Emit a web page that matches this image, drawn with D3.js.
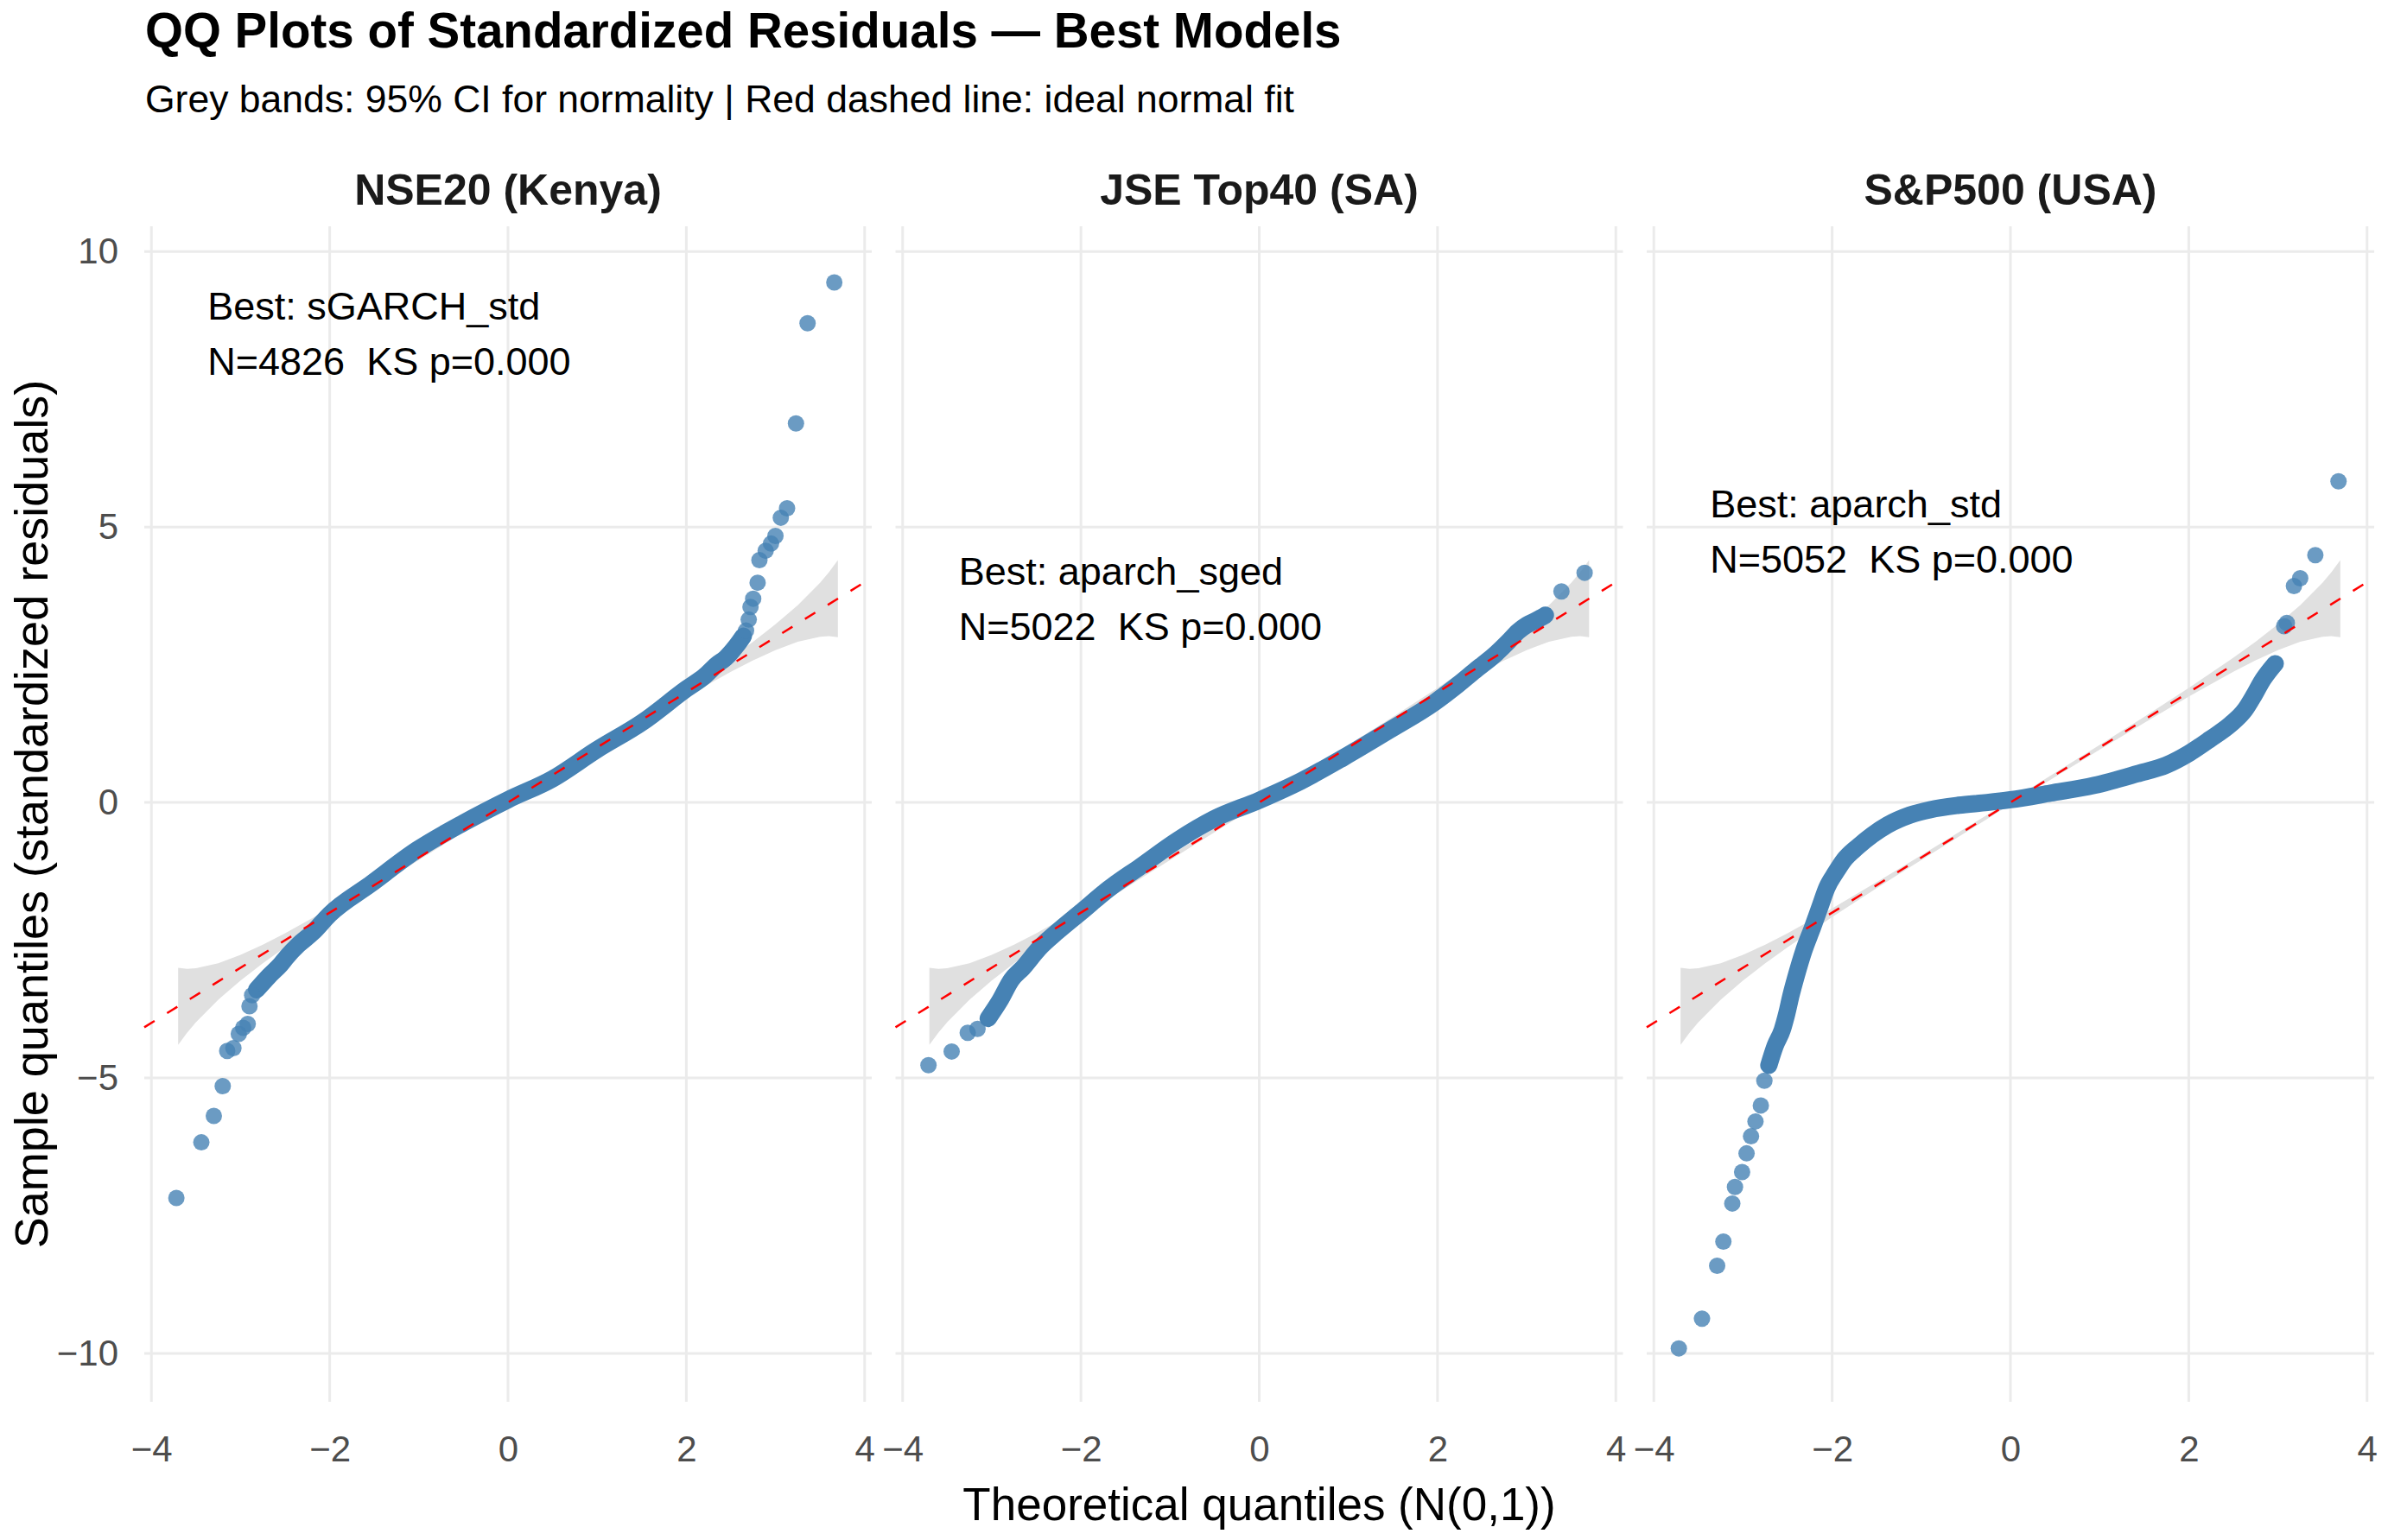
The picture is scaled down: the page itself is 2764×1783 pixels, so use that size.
<!DOCTYPE html>
<html>
<head>
<meta charset="utf-8">
<script src="https://cdn.jsdelivr.net/npm/d3@7"></script>
<style>
  body { margin: 0; background: #fff; }
  text { font-family: "Liberation Sans", Arial, sans-serif; }
</style>
</head>
<body>
<svg id="chart" width="2764" height="1783"></svg>
<script>
// facet names and the text printed in each panel
const panelNames = ["NSE20 (Kenya)", "JSE Top40 (SA)", "S&P500 (USA)"];
const bestModels = ["sGARCH_std", "aparch_sged", "aparch_std"];
const nObs = [4826, 5022, 5052];
const ksP = ["0.000", "0.000", "0.000"];
const noteX = [-3.37, -3.37, -3.37];
const noteY = [8.77, 3.95, 5.18];

// tick values
const xTicks = [-4, -2, 0, 2, 4];
const yTicks = [-10, -5, 0, 5, 10];

// dense part of each qq cloud (theoretical, sample)
const bodyNSE = [[-2.82,-3.40],[-2.68,-3.15],[-2.55,-2.94],[-2.48,-2.80],[-2.35,-2.58],[-2.19,-2.36],
  [-2.0,-2.03],[-1.54,-1.48],[-1.02,-0.86],[-0.50,-0.37],[0,0.05],[0.50,0.43],[0.99,0.95],[1.51,1.46],
  [2.0,2.06],[2.21,2.30],[2.34,2.50],[2.44,2.62],[2.56,2.84],[2.64,3.02]];
const bodyJSE = [[-3.04,-3.92],[-2.91,-3.60],[-2.78,-3.22],[-2.65,-3.0],[-2.47,-2.65],[-2.26,-2.34],
  [-2.0,-1.99],[-1.69,-1.57],[-1.33,-1.16],[-0.92,-0.69],[-0.51,-0.30],[0,0.04],[0.47,0.39],[0.94,0.81],
  [1.46,1.31],[1.97,1.82],[2.23,2.14],[2.44,2.42],[2.64,2.68],[2.80,2.93],[2.90,3.10],[3.0,3.22],
  [3.10,3.30],[3.21,3.40]];
const bodySPX = [[-2.71,-4.77],[-2.64,-4.42],[-2.56,-4.13],[-2.51,-3.84],[-2.46,-3.49],[-2.40,-3.13],
  [-2.32,-2.70],[-2.22,-2.27],[-2.14,-1.91],[-2.06,-1.55],[-1.96,-1.27],[-1.87,-1.05],[-1.71,-0.80],
  [-1.55,-0.59],[-1.38,-0.41],[-1.13,-0.23],[-0.90,-0.13],[-0.58,-0.05],[-0.26,0.0],[0,0.05],[0.45,0.17],
  [0.94,0.31],[1.42,0.52],[1.75,0.68],[2.0,0.89],[2.24,1.15],[2.47,1.42],[2.63,1.68],[2.73,1.94],
  [2.82,2.20],[2.89,2.36],[2.97,2.52]];

// single points in the tails
const tailNSE = [[-3.72,-7.18],[-3.44,-6.17],[-3.30,-5.69],[-3.20,-5.15],[-3.15,-4.51],[-3.08,-4.46],
  [-3.02,-4.20],[-2.97,-4.09],[-2.92,-4.02],[-2.90,-3.70],[-2.87,-3.50],
  [2.67,3.12],[2.70,3.32],[2.72,3.55],[2.75,3.70],[2.80,3.99],
  [2.82,4.40],[2.89,4.57],[2.95,4.70],[3.00,4.84],[3.06,5.17],[3.13,5.34],[3.23,6.88],[3.36,8.70],[3.66,9.44]];
const tailJSE = [[-3.71,-4.77],[-3.45,-4.52],[-3.27,-4.18],[-3.16,-4.11],[3.39,3.83],[3.65,4.17]];
const tailSPX = [[-3.72,-9.91],[-3.46,-9.37],[-3.29,-8.41],[-3.22,-7.97],[-3.12,-7.28],[-3.09,-6.98],
  [-3.01,-6.71],[-2.96,-6.37],[-2.91,-6.06],[-2.86,-5.79],[-2.80,-5.50],[-2.76,-5.05],
  [3.07,3.20],[3.10,3.26],[3.18,3.93],[3.25,4.07],[3.42,4.49],[3.68,5.83]];

// grey 95% band: half width around the line at |theoretical quantile|
const bandQ = [0, 1, 1.5, 2, 2.5, 2.75, 3, 3.25, 3.5, 3.6, 3.7];
const bandHalf = [0.035, 0.043, 0.054, 0.078, 0.127, 0.17, 0.234, 0.33, 0.49, 0.58, 0.70];

// ideal normal fit
const fitIntercept = 0, fitSlope = 1;

const bodies = [bodyNSE, bodyJSE, bodySPX];
const tails = [tailNSE, tailJSE, tailSPX];

// layout
const plotLeft = 167, panelW = 842, gap = 27.5;
const panelTop = 262, panelBottom = 1623;
const xDomain = [-4.08, 4.08], yDomain = [-10.88, 10.46];
const blue = "#4682B4";

const svg = d3.select("#chart");
svg.append("rect").attr("width", 2764).attr("height", 1783).attr("fill", "#fff");

const y = d3.scaleLinear().domain(yDomain).range([panelBottom, panelTop]);

// band polygon goes from -3.7 to 3.7
var bandData = [];
for (let i = bandQ.length - 1; i > 0; i--) bandData.push([-bandQ[i], bandHalf[i]]);
for (let i = 0; i < bandQ.length; i++) bandData.push([bandQ[i], bandHalf[i]]);

panelNames.forEach(function (name, i) {
    const left = plotLeft + i * (panelW + gap);
    const x = d3.scaleLinear().domain(xDomain).range([left, left + panelW]);
    const g = svg.append("g");

    // grid
    g.selectAll(".vg").data(xTicks).enter().append("line")
        .attr("x1", d => x(d)).attr("x2", d => x(d))
        .attr("y1", panelTop).attr("y2", panelBottom)
        .attr("stroke", "#EBEBEB").attr("stroke-width", 3);
    g.selectAll(".hg").data(yTicks).enter().append("line")
        .attr("x1", left).attr("x2", left + panelW)
        .attr("y1", d => y(d)).attr("y2", d => y(d))
        .attr("stroke", "#EBEBEB").attr("stroke-width", 3);

    // band
    const fit = q => fitIntercept + fitSlope * q;
    const area = d3.area()
        .x(d => x(d[0]))
        .y0(d => y(fit(d[0]) - d[1]))
        .y1(d => y(fit(d[0]) + d[1]));
    g.append("path").attr("d", area(bandData)).attr("fill", "#E0E0E0");

    // dense body of points
    const line = d3.line().x(d => x(d[0])).y(d => y(d[1])).curve(d3.curveMonotoneX);
    g.append("path").attr("d", line(bodies[i]))
        .attr("fill", "none").attr("stroke", blue).attr("stroke-width", 20)
        .attr("stroke-linecap", "round").attr("stroke-linejoin", "round");

    // tail points
    g.selectAll(".pt").data(tails[i]).enter().append("circle")
        .attr("cx", d => x(d[0])).attr("cy", d => y(d[1])).attr("r", 9.5)
        .attr("fill", blue).attr("fill-opacity", 0.8);

    // red dashed reference line
    g.append("path")
        .attr("d", d3.line().x(d => x(d)).y(d => y(fit(d)))(xDomain))
        .attr("stroke", "red").attr("stroke-width", 2.5).attr("fill", "none")
        .attr("stroke-dasharray", "14 17");

    // note text
    const note = g.append("text")
        .attr("x", x(noteX[i])).attr("y", y(noteY[i]))
        .attr("font-size", 45).attr("fill", "#000").style("white-space", "pre");
    note.append("tspan").attr("x", x(noteX[i])).text("Best: " + bestModels[i]);
    note.append("tspan").attr("x", x(noteX[i])).attr("dy", 64)
        .text("N=" + nObs[i] + "  KS p=" + ksP[i]);

    // strip label
    svg.append("text").attr("x", left + panelW / 2).attr("y", 237)
        .attr("text-anchor", "middle").attr("font-size", 50).attr("font-weight", "bold")
        .attr("fill", "#1A1A1A").text(name);

    // x axis
    const xa = svg.append("g").attr("transform", `translate(0,${panelBottom})`)
        .call(d3.axisBottom(x).tickValues(xTicks).tickSize(0).tickFormat(d3.format("d")));
    xa.select(".domain").remove();
    xa.attr("font-family", null).attr("font-size", null);
    xa.selectAll("text").attr("y", 69).attr("dy", null)
        .attr("font-size", 42).attr("fill", "#4D4D4D");

    if (i == 0) {
        const ya = svg.append("g").attr("transform", `translate(${left},0)`)
            .call(d3.axisLeft(y).tickValues(yTicks).tickSize(0).tickPadding(30).tickFormat(d3.format("d")));
        ya.select(".domain").remove();
        ya.attr("font-family", null).attr("font-size", null);
        ya.selectAll("text").attr("font-size", 42).attr("fill", "#4D4D4D");
    }
});

// titles
svg.append("text").attr("x", 168).attr("y", 55)
    .attr("font-size", 56.5).attr("font-weight", "bold").attr("fill", "#000")
    .text("QQ Plots of Standardized Residuals \u2014 Best Models");
svg.append("text").attr("x", 168).attr("y", 130)
    .attr("font-size", 44.5).attr("fill", "#000")
    .text("Grey bands: 95% CI for normality | Red dashed line: ideal normal fit");

const plotRight = plotLeft + 3 * panelW + 2 * gap;
svg.append("text").attr("x", (plotLeft + plotRight) / 2).attr("y", 1760)
    .attr("text-anchor", "middle").attr("font-size", 53).attr("fill", "#000")
    .text("Theoretical quantiles (N(0,1))");
svg.append("text")
    .attr("transform", `translate(55,${(panelTop + panelBottom) / 2}) rotate(-90)`)
    .attr("text-anchor", "middle").attr("font-size", 54).attr("fill", "#000")
    .text("Sample quantiles (standardized residuals)");
</script>
</body>
</html>
